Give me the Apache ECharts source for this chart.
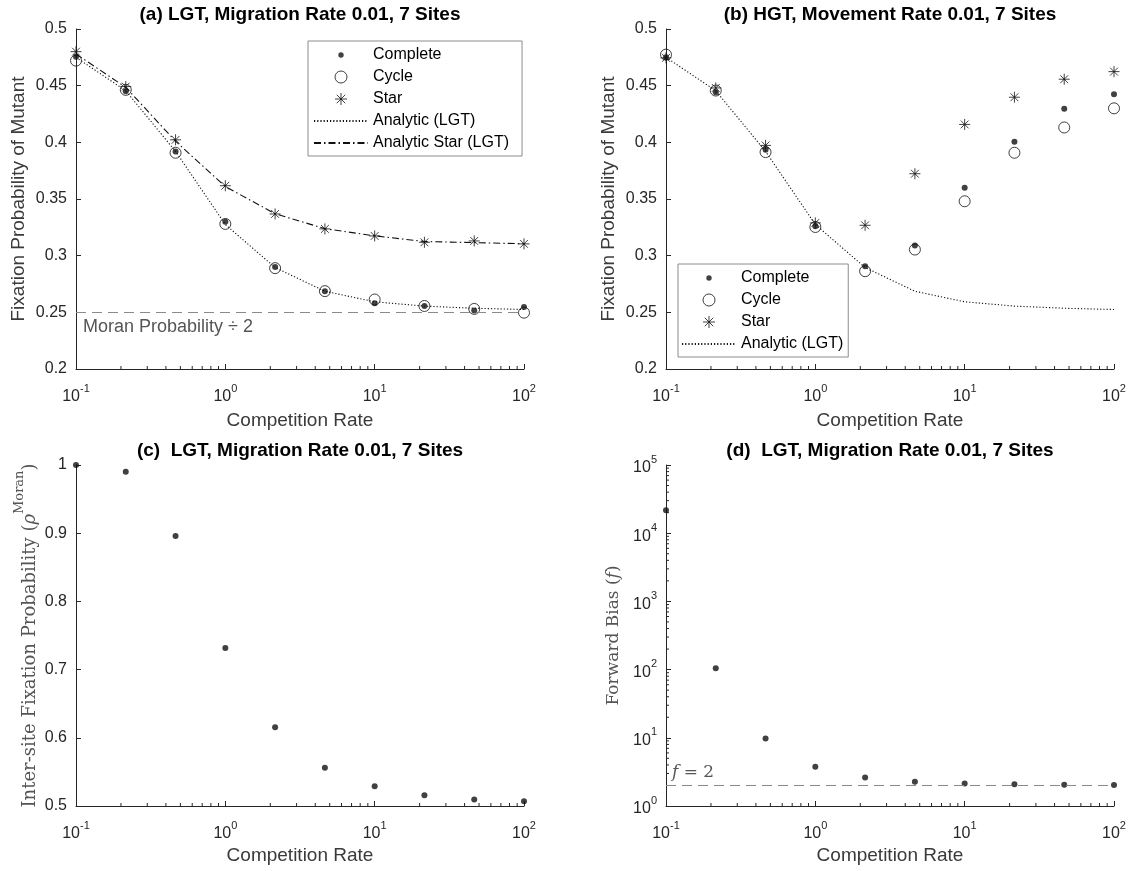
<!DOCTYPE html>
<html>
<head>
<meta charset="utf-8">
<title>Fixation probability vs competition rate</title>
<script src="https://cdn.jsdelivr.net/npm/echarts@6/dist/echarts.min.js"></script>
<style>
  html, body { margin: 0; padding: 0; background: #fff; }
  #main { width: 1134px; height: 871px; }
</style>
</head>
<body>
<div id="main"></div>
<script>
// competition rates (logspace(-1, 2, 10))
const competitionRate = [0.1, 0.2154, 0.4642, 1, 2.154, 4.642, 10, 21.54, 46.42, 100];

// (a) LGT, migration rate 0.01
const lgtComplete = [0.4756, 0.445, 0.392, 0.330, 0.290, 0.2687, 0.258, 0.2555, 0.2517, 0.2546];
const lgtCycle = [0.4721, 0.4463, 0.3908, 0.328, 0.289, 0.2687, 0.2613, 0.2556, 0.253, 0.2497];
const lgtStar = [0.480, 0.4492, 0.4022, 0.3617, 0.3368, 0.3236, 0.3174, 0.3118, 0.313, 0.3104];
const analyticLGT = [0.475, 0.4455, 0.392, 0.3275, 0.2895, 0.2686, 0.2593, 0.2555, 0.2536, 0.2525];
const analyticStarLGT = [0.478, 0.4485, 0.401, 0.361, 0.337, 0.3238, 0.3175, 0.3125, 0.3115, 0.3105];
const moranHalf = 0.25;

// (b) HGT, movement rate 0.01
const hgtComplete = [0.475, 0.4442, 0.3934, 0.326, 0.2907, 0.3089, 0.360, 0.4005, 0.4296, 0.4425];
const hgtCycle = [0.4774, 0.4457, 0.3914, 0.3253, 0.2863, 0.3054, 0.348, 0.3908, 0.4131, 0.430];
const hgtStar = [0.4745, 0.448, 0.3973, 0.3289, 0.3268, 0.3723, 0.4158, 0.4398, 0.4557, 0.4624];

// (c) inter-site fixation probability
const interSite = [1.0, 0.990, 0.896, 0.7315, 0.6155, 0.556, 0.5288, 0.5156, 0.5097, 0.5068];

// (d) forward bias
const forwardBias = [21780, 105, 9.73, 3.75, 2.62, 2.27, 2.14, 2.09, 2.05, 2.04];
const forwardRef = 2;

// minor ticks of the log axes
const xMinorTicks = [0.2, 0.3, 0.4, 0.5, 0.6, 0.7, 0.8, 0.9, 2, 3, 4, 5, 6, 7, 8, 9, 20, 30, 40, 50, 60, 70, 80, 90];
const yMinorTicks = [2, 3, 4, 5, 6, 7, 8, 9, 20, 30, 40, 50, 60, 70, 80, 90,
  200, 300, 400, 500, 600, 700, 800, 900, 2000, 3000, 4000, 5000, 6000, 7000, 8000, 9000,
  20000, 30000, 40000, 50000, 60000, 70000, 80000, 90000];

const sans = 'Liberation Sans';
const serif = 'DejaVu Serif';
const axisColor = '#262626';
const labelColor = '#3a3a3a';
const markColor = '#111';

const pairs = ys => competitionRate.map((x, i) => [x, ys[i]]);

const starPath = 'path://M0,-10L0,10M-10,0L10,0M-7.07,-7.07L7.07,7.07M-7.07,7.07L7.07,-7.07';
// small dot inside a larger empty box, so the legend keeps it small
const dotIcon = 'path://M0,0M20,20M5.5,10A4.5,4.5,0,1,1,14.5,10A4.5,4.5,0,1,1,5.5,10Z';

const powRich = {
  b: { fontFamily: sans, fontSize: 16, color: axisColor, lineHeight: 22, verticalAlign: 'bottom' },
  s: { fontFamily: sans, fontSize: 11, color: axisColor, lineHeight: 11, verticalAlign: 'top' }
};
const powLabel = v => '{b|10}{s|' + Math.round(Math.log10(v)) + '}';

function logX(gridIndex, nameGap) {
  return {
    type: 'log', logBase: 10, gridIndex: gridIndex, min: 0.1, max: 100,
    name: 'Competition Rate', nameLocation: 'middle', nameGap: nameGap,
    nameTextStyle: { fontFamily: sans, fontSize: 19, color: labelColor },
    axisLine: { lineStyle: { color: axisColor, width: 1 } },
    axisTick: { inside: true, length: 5, lineStyle: { color: axisColor } },
    axisLabel: { margin: 14, formatter: powLabel, rich: powRich, showMinLabel: true, showMaxLabel: true },
    splitLine: { show: false }
  };
}

function linY(gridIndex, min, max, interval, name, nameGap, nameStyle) {
  return {
    type: 'value', gridIndex: gridIndex, min: min, max: max, interval: interval,
    name: name, nameLocation: 'middle', nameRotate: 90, nameGap: nameGap,
    nameTextStyle: nameStyle,
    axisLine: { show: true, lineStyle: { color: axisColor, width: 1 } },
    axisTick: { show: true, inside: true, length: 5, lineStyle: { color: axisColor } },
    axisLabel: { margin: 9, fontFamily: sans, fontSize: 16, color: axisColor },
    splitLine: { show: false }
  };
}

const sansName = { fontFamily: sans, fontSize: 19, color: labelColor };
function serifRich(size) {
  return {
    t: { fontFamily: serif, fontSize: size, color: '#555', lineHeight: 26, verticalAlign: 'bottom' },
    i: { fontFamily: serif, fontSize: size, color: '#555', fontStyle: 'italic', lineHeight: 26, verticalAlign: 'bottom' },
    s: { fontFamily: serif, fontSize: 13, color: '#555', lineHeight: 13, verticalAlign: 'top' }
  };
}

function dotSeries(name, data, xi, extra) {
  return Object.assign({
    name: name, type: 'scatter', xAxisIndex: xi, yAxisIndex: xi,
    data: pairs(data), symbol: 'circle', symbolSize: 6,
    itemStyle: { color: markColor, borderColor: markColor, borderWidth: 0 }, z: 4
  }, extra || {});
}
function cycleSeries(name, data, xi) {
  return {
    name: name, type: 'scatter', xAxisIndex: xi, yAxisIndex: xi,
    data: pairs(data), symbol: 'circle', symbolSize: 11,
    itemStyle: { color: 'transparent', borderColor: markColor, borderWidth: 1 }, z: 4
  };
}
function starSeries(name, data, xi) {
  return {
    name: name, type: 'scatter', xAxisIndex: xi, yAxisIndex: xi,
    data: pairs(data), symbol: starPath, symbolSize: 11,
    itemStyle: { color: 'transparent', borderColor: markColor, borderWidth: 1 }, z: 4
  };
}
function lineSeries(name, data, xi, dash) {
  return {
    name: name, type: 'line', xAxisIndex: xi, yAxisIndex: xi,
    data: pairs(data), symbol: 'circle', showSymbol: false, symbolSize: 0,
    itemStyle: { color: 'transparent', borderColor: 'transparent', borderWidth: 0 },
    lineStyle: { color: '#111', width: 1.1, type: dash }, z: 3
  };
}
function minorX(xi, yMin) {
  return {
    type: 'custom', xAxisIndex: xi, yAxisIndex: xi, silent: true, z: 2,
    data: xMinorTicks.map(v => [v, yMin]),
    renderItem: (params, api) => {
      const p = api.coord([api.value(0), api.value(1)]);
      return { type: 'line', shape: { x1: p[0], y1: p[1], x2: p[0], y2: p[1] - 3 },
        style: { stroke: axisColor, lineWidth: 1 } };
    }
  };
}
function minorY(xi, xMin) {
  return {
    type: 'custom', xAxisIndex: xi, yAxisIndex: xi, silent: true, z: 2,
    data: yMinorTicks.map(v => [xMin, v]),
    renderItem: (params, api) => {
      const p = api.coord([api.value(0), api.value(1)]);
      return { type: 'line', shape: { x1: p[0], y1: p[1], x2: p[0] + 3, y2: p[1] },
        style: { stroke: axisColor, lineWidth: 1 } };
    }
  };
}

const titleStyle = { fontFamily: sans, fontSize: 19, fontWeight: 'bold', color: '#000' };
const markerLegend = [
  { name: 'Complete', icon: dotIcon, itemStyle: { color: markColor, borderColor: markColor, borderWidth: 0 } },
  { name: 'Cycle', icon: 'circle', itemStyle: { color: 'transparent', borderColor: markColor, borderWidth: 1 } },
  { name: 'Star', icon: starPath, itemStyle: { color: 'transparent', borderColor: markColor, borderWidth: 1 } },
  { name: 'Analytic (LGT)' }
];
const legendBase = {
  orient: 'vertical', selectedMode: false, itemWidth: 54, itemHeight: 12, itemGap: 6,
  backgroundColor: '#fff', borderColor: '#8c8c8c', borderWidth: 1,
  textStyle: { fontFamily: sans, fontSize: 16, color: '#000' }
};

const chart = echarts.init(document.getElementById('main'), null, { renderer: 'canvas' });

const option = {
  animation: false,
  backgroundColor: '#fff',
  title: [
    { text: '(a) LGT, Migration Rate 0.01, 7 Sites', left: 300, top: 5, textAlign: 'center', padding: 0, textStyle: titleStyle },
    { text: '(b) HGT, Movement Rate 0.01, 7 Sites', left: 890, top: 5, textAlign: 'center', padding: 0, textStyle: titleStyle },
    { text: '(c)  LGT, Migration Rate 0.01, 7 Sites', left: 300, top: 441, textAlign: 'center', padding: 0, textStyle: titleStyle },
    { text: '(d)  LGT, Migration Rate 0.01, 7 Sites', left: 890, top: 441, textAlign: 'center', padding: 0, textStyle: titleStyle }
  ],
  legend: [
    Object.assign({}, legendBase, {
      left: 308, top: 41, padding: [6, 13, 5, 5],
      data: markerLegend.concat([{ name: 'Analytic Star (LGT)' }])
    }),
    Object.assign({}, legendBase, {
      left: 678, top: 264, padding: [6, 5, 5, 3],
      data: markerLegend
    })
  ],
  grid: [
    { left: 76, top: 29, width: 448, height: 340, containLabel: false, outerBoundsMode: 'none' },
    { left: 666, top: 29, width: 448, height: 340, containLabel: false, outerBoundsMode: 'none' },
    { left: 76, top: 465, width: 448, height: 341, containLabel: false, outerBoundsMode: 'none' },
    { left: 666, top: 465, width: 448, height: 341, containLabel: false, outerBoundsMode: 'none' }
  ],
  xAxis: [logX(0, 42), logX(1, 42), logX(2, 40), logX(3, 40)],
  yAxis: [
    linY(0, 0.2, 0.5, 0.05, 'Fixation Probability of Mutant', 48, sansName),
    linY(1, 0.2, 0.5, 0.05, 'Fixation Probability of Mutant', 48, sansName),
    linY(2, 0.5, 1, 0.1, '{t|Inter-site Fixation Probability (}{i|ρ}{s|Moran}{t|)}', 37,
      { fontFamily: serif, fontSize: 18, color: '#555', rich: serifRich(18) }),
    {
      type: 'log', logBase: 10, gridIndex: 3, min: 1, max: 100000,
      name: '{t|Forward Bias (}{i|f}{t|)}', nameLocation: 'middle', nameRotate: 90, nameGap: 44,
      nameTextStyle: { fontFamily: serif, fontSize: 17, color: '#555', rich: serifRich(17) },
      axisLine: { show: true, lineStyle: { color: axisColor, width: 1 } },
      axisTick: { show: true, inside: true, length: 5, lineStyle: { color: axisColor } },
      axisLabel: { margin: 9, formatter: powLabel, rich: powRich, showMinLabel: true, showMaxLabel: true },
      splitLine: { show: false }
    }
  ],
  series: [
    // (a)
    lineSeries('Analytic (LGT)', analyticLGT, 0, [1.2, 2]),
    lineSeries('Analytic Star (LGT)', analyticStarLGT, 0, [7, 3, 1.5, 3]),
    dotSeries('Complete', lgtComplete, 0, {
      markLine: {
        silent: true, symbol: ['none', 'none'], animation: false,
        lineStyle: { color: '#8a8a8a', width: 1, type: [10, 6] },
        label: { show: true, position: 'insideStartBottom', distance: [7, 6],
          formatter: 'Moran Probability ÷ 2', fontFamily: sans, fontSize: 18, color: '#555' },
        data: [{ yAxis: moranHalf }]
      }
    }),
    cycleSeries('Cycle', lgtCycle, 0),
    starSeries('Star', lgtStar, 0),
    minorX(0, 0.2),
    // (b)
    lineSeries('Analytic (LGT)', analyticLGT, 1, [1.2, 2]),
    dotSeries('Complete', hgtComplete, 1),
    cycleSeries('Cycle', hgtCycle, 1),
    starSeries('Star', hgtStar, 1),
    minorX(1, 0.2),
    // (c)
    dotSeries('Inter-site', interSite, 2),
    minorX(2, 0.5),
    // (d)
    dotSeries('Forward bias', forwardBias, 3, {
      markLine: {
        silent: true, symbol: ['none', 'none'], animation: false,
        lineStyle: { color: '#8a8a8a', width: 1, type: [10, 6] },
        label: { show: true, position: 'insideStartTop', distance: [6, 4],
          formatter: '{i|f}{t| = 2}',
          rich: {
            i: { fontFamily: serif, fontSize: 17, fontStyle: 'italic', color: '#555' },
            t: { fontFamily: serif, fontSize: 17, color: '#555' }
          } },
        data: [{ yAxis: forwardRef }]
      }
    }),
    minorX(3, 1),
    minorY(3, 0.1)
  ]
};

chart.setOption(option);
</script>
</body>
</html>
